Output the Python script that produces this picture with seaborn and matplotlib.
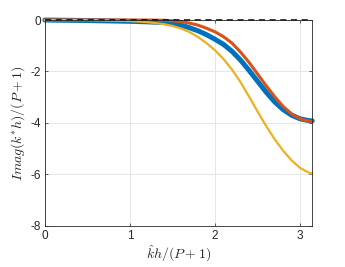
import numpy as np
import pandas as pd
import seaborn as sns
import matplotlib
matplotlib.use("Agg")
import matplotlib.pyplot as plt

# values
x = [0.0, 0.5, 1.0, 1.2, 1.4, 1.5, 1.6, 1.7, 1.8, 1.9, 2.0, 2.1, 2.2, 2.3,
     2.4, 2.5, 2.6, 2.7, 2.8, 2.9, 3.0, 3.1, np.pi]
blue = [0.0, -0.02, -0.05, -0.07, -0.1, -0.14, -0.2, -0.3, -0.42, -0.57, -0.75,
        -0.95, -1.22, -1.56, -1.96, -2.38, -2.8, -3.18, -3.48, -3.7, -3.84, -3.91, -3.92]
orange = [0.0, 0.0, 0.0, 0.0, -0.01, -0.03, -0.06, -0.12, -0.2, -0.32, -0.46,
          -0.65, -0.9, -1.25, -1.65, -2.1, -2.55, -2.98, -3.36, -3.65, -3.84, -3.93, -3.95]
yellow = [0.0, 0.0, -0.04, -0.08, -0.16, -0.23, -0.33, -0.47, -0.66, -0.9, -1.18,
          -1.52, -1.93, -2.42, -2.98, -3.56, -4.12, -4.63, -5.08, -5.46, -5.75, -5.93, -5.97]
zero = [0.0] * len(x)

df = pd.DataFrame({"x": x, "blue": blue, "orange": orange, "yellow": yellow, "zero": zero})

sns.set_style("whitegrid")
plt.rcParams["font.family"] = ["Liberation Sans", "DejaVu Sans"]
plt.rcParams["mathtext.fontset"] = "cm"

fig = plt.figure(figsize=(3.45, 2.67), dpi=100)
ax = fig.add_axes([0.130, 0.154, 0.775, 0.771])

sns.lineplot(data=df, x="x", y="blue", color="#0072BD", linewidth=3.6, ax=ax, clip_on=False)
sns.lineplot(data=df, x="x", y="orange", color="#D95319", linewidth=2.2, ax=ax, clip_on=False)
sns.lineplot(data=df, x="x", y="yellow", color="#EDB120", linewidth=1.6, ax=ax, clip_on=False)
sns.lineplot(data=df, x="x", y="zero", color="black", linewidth=1.1, linestyle=(0, (4, 3)),
             ax=ax, clip_on=False)

ax.set_xlim(0, np.pi)
ax.set_ylim(-8, 0)
ax.set_xticks([0, 1, 2, 3])
ax.set_yticks([-8, -6, -4, -2, 0])
ax.set_xticklabels(["0", "1", "2", "3"])
ax.set_yticklabels(["-8", "-6", "-4", "-2", "0"])
ax.grid(True, color="#e6e6e6", linewidth=0.7)
for s in ax.spines.values():
    s.set_color("#262626")
    s.set_linewidth(0.6)
ax.tick_params(direction="in", length=2.5, width=0.5, labelsize=8.5, colors="#262626",
               top=True, right=True, left=True, bottom=True, pad=3)
ax.set_xlabel(r"$\hat{k}h/(P+1)$", fontsize=10, labelpad=1)
ax.set_ylabel(r"$Imag(k^{*}h)/(P+1)$", fontsize=10, labelpad=2)

fig.savefig("out.png", dpi=100)
